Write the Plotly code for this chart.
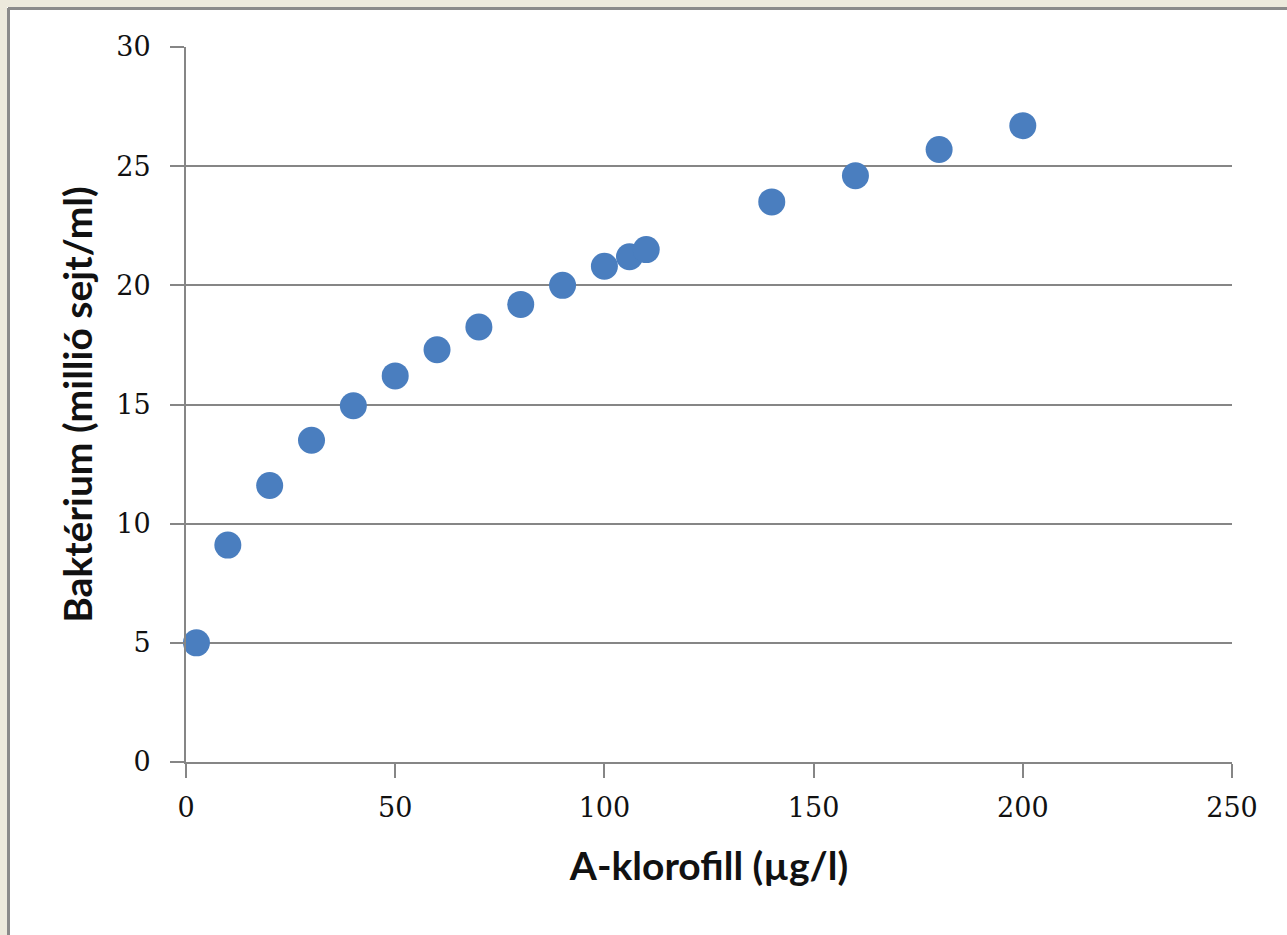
import plotly.graph_objects as go

# A-klorofill (µg/l) vs. bacterium count (million cells/ml)
klorofill = [2.5, 10, 20, 30, 40, 50, 60, 70, 80, 90, 100, 106, 110, 140, 160, 180, 200]
bakterium = [5.0, 9.1, 11.6, 13.5, 14.95, 16.2, 17.3, 18.25, 19.2, 20.0, 20.8, 21.2, 21.5, 23.5, 24.6, 25.7, 26.7]

x_ticks = [0, 50, 100, 150, 200, 250]
y_ticks = [0, 5, 10, 15, 20, 25, 30]

W, H = 1287, 935
L, R, T, B = 186, 55, 47, 173
pw, ph = W - L - R, H - T - B


def px_x(p):
    return (p - L) / pw


def px_y(p):
    return 1 - (p - T) / ph


fig = go.Figure()
fig.add_trace(go.Scatter(
    x=klorofill, y=bakterium, mode="markers",
    marker=dict(size=27, color="#4A7EBF", line=dict(width=0)),
    showlegend=False, cliponaxis=False,
))

axis_line = "#868686"
tick_font = dict(family="DejaVu Serif, Liberation Serif, serif", size=27, color="#111111")
title_font = dict(family="Lato, Open Sans, sans-serif", size=39, color="#111111")

fig.update_xaxes(
    range=[0, 250], tickvals=x_ticks, showgrid=False, zeroline=False,
    showline=True, linecolor=axis_line, linewidth=2,
    ticks="outside", ticklen=14, tickwidth=2, tickcolor=axis_line,
    tickfont=tick_font, ticklabelstandoff=7,
    title=dict(text="<b>A-klorofill (µg/l)</b>", font=title_font, standoff=30),
)
fig.update_yaxes(
    range=[0, 30], tickvals=y_ticks, showgrid=True, gridcolor=axis_line, gridwidth=1.5,
    zeroline=False, showline=True, linecolor=axis_line, linewidth=2,
    ticks="outside", ticklen=14, tickwidth=2, tickcolor=axis_line,
    tickfont=tick_font, ticklabelstandoff=14,
    title=dict(text="<b>Baktérium (millió sejt/ml)</b>", font=title_font, standoff=12),
)

# window-style frame along the top and left edges
shapes = [
    dict(type="rect", xref="paper", yref="paper", x0=px_x(-5), x1=px_x(W + 5),
         y0=px_y(7), y1=px_y(-5), fillcolor="#ECE9DC", line=dict(width=0), layer="below"),
    dict(type="rect", xref="paper", yref="paper", x0=px_x(-5), x1=px_x(7),
         y0=px_y(H + 5), y1=px_y(-5), fillcolor="#ECE9DC", line=dict(width=0), layer="below"),
    dict(type="line", xref="paper", yref="paper", x0=px_x(8), x1=px_x(W + 5),
         y0=px_y(8.5), y1=px_y(8.5), line=dict(color="#8A8A8A", width=3)),
    dict(type="line", xref="paper", yref="paper", x0=px_x(8.5), x1=px_x(8.5),
         y0=px_y(H + 5), y1=px_y(8), line=dict(color="#8A8A8A", width=3)),
]

fig.update_layout(
    width=W, height=H,
    margin=dict(l=L, r=R, t=T, b=B),
    paper_bgcolor="white", plot_bgcolor="white",
    shapes=shapes,
)

fig.write_html("out.html")
